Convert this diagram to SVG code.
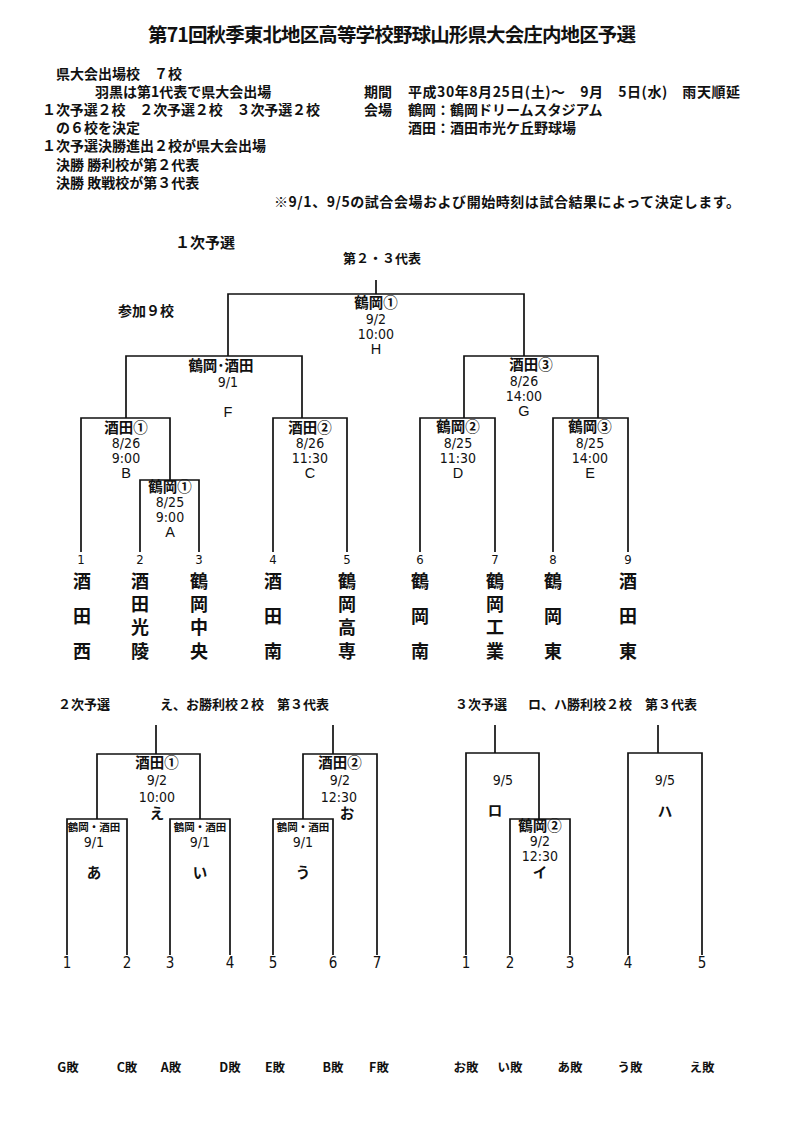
<svg xmlns="http://www.w3.org/2000/svg" width="800" height="1131" viewBox="0 0 800 1131">
<style>
text{fill:#111;}
.j{font-family:"Noto Sans CJK JP","Noto Sans CJK SC",sans-serif;font-weight:bold;}
.t{font-size:14px;}
.ttl{font-size:19.5px;}
.n{font-size:14.5px;text-anchor:middle;}
.s{font-size:10.5px;text-anchor:middle;}
.nm{font-size:18px;text-anchor:middle;}
.lb{font-size:13px;}
.bl{font-size:12.5px;text-anchor:middle;}
.d{font-family:"Liberation Sans Narrow","DejaVu Sans Condensed","Liberation Sans",sans-serif;font-size:14px;text-anchor:middle;}
.num{font-family:"Liberation Sans Narrow","DejaVu Sans Condensed","Liberation Sans",sans-serif;font-size:13px;text-anchor:middle;}
.num2{font-family:"Liberation Sans Narrow","DejaVu Sans Condensed","Liberation Sans",sans-serif;font-size:15px;text-anchor:middle;}
.a{font-family:"Liberation Sans",Arial,sans-serif;font-size:14.5px;text-anchor:middle;}
.ln{stroke:#111;stroke-width:1.7;fill:none;}
</style>
<rect width="800" height="1131" fill="#fff"/>

<g id="header">
<text class="j ttl" x="148" y="42" textLength="488">第71回秋季東北地区高等学校野球山形県大会庄内地区予選</text>
<text class="j t" x="56" y="79">県大会出場校　７校</text>
<text class="j t" x="95" y="97">羽黒は第1代表で県大会出場</text>
<text class="j t" x="42" y="115" textLength="278">１次予選２校　２次予選２校　３次予選２校</text>
<text class="j t" x="56" y="133">の６校を決定</text>
<text class="j t" x="42" y="151">１次予選決勝進出２校が県大会出場</text>
<text class="j t" x="56" y="170">決勝 勝利校が第２代表</text>
<text class="j t" x="56" y="188">決勝 敗戦校が第３代表</text>
<text class="j t" x="364" y="97">期間</text>
<text class="j t" x="408" y="97" textLength="332">平成30年8月25日(土)～　9月　5日(水)　雨天順延</text>
<text class="j t" x="364" y="115">会場</text>
<text class="j t" x="408" y="115">鶴岡：鶴岡ドリームスタジアム</text>
<text class="j t" x="408" y="133">酒田：酒田市光ケ丘野球場</text>
<text class="j t" x="274" y="207" textLength="466">※9/1、9/5の試合会場および開始時刻は試合結果によって決定します。</text>
</g>

<g id="connectors">
<path class="ln" d="M376 280V294M228 356V294H524V356"/>
<path class="ln" d="M126 418V356H302V418"/>
<path class="ln" d="M464 418V356H598V418"/>
<path class="ln" d="M81 552V418H170V480"/>
<path class="ln" d="M140 552V480H199V552"/>
<path class="ln" d="M273 552V418H347V552"/>
<path class="ln" d="M420 552V418H495V552"/>
<path class="ln" d="M553 552V418H628V552"/>
<path class="ln" d="M156 725V754M97 819V754H200V819"/>
<path class="ln" d="M67 955V819H127V955"/>
<path class="ln" d="M170 955V819H230V955"/>
<path class="ln" d="M333 725V754M303 819V754H377V955"/>
<path class="ln" d="M273 955V819H333V955"/>
<path class="ln" d="M495 725V753M466 955V753H539V819"/>
<path class="ln" d="M510 955V819H570V955"/>
<path class="ln" d="M658 725V753M628 955V753H702V955"/>
</g>

<g id="section1-labels">
<text class="j" x="175" y="248" font-size="15">１次予選</text>
<text class="j lb" x="343" y="263">第２・３代表</text>
<text class="j" x="118" y="316" font-size="14">参加９校</text>
</g>

<g id="node-H">
<text class="j n" x="376" y="308">鶴岡①</text>
<text class="d" x="376" y="324">9/2</text>
<text class="d" x="376" y="339">10:00</text>
<text class="a" x="376" y="354">H</text>
</g>
<g id="node-F">
<text class="j n" x="221" y="371">鶴岡･酒田</text>
<text class="d" x="228" y="387">9/1</text>
<text class="a" x="228" y="417">F</text>
</g>
<g id="node-G">
<text class="j n" x="531" y="370">酒田③</text>
<text class="d" x="524" y="386">8/26</text>
<text class="d" x="524" y="401">14:00</text>
<text class="a" x="524" y="416">G</text>
</g>
<g id="node-B">
<text class="j n" x="126" y="433">酒田①</text>
<text class="d" x="126" y="448">8/26</text>
<text class="d" x="126" y="463">9:00</text>
<text class="a" x="126" y="478">B</text>
</g>
<g id="node-A">
<text class="j n" x="170" y="492">鶴岡①</text>
<text class="d" x="170" y="507">8/25</text>
<text class="d" x="170" y="522">9:00</text>
<text class="a" x="170" y="537">A</text>
</g>
<g id="node-C">
<text class="j n" x="310" y="433">酒田②</text>
<text class="d" x="310" y="448">8/26</text>
<text class="d" x="310" y="463">11:30</text>
<text class="a" x="310" y="478">C</text>
</g>
<g id="node-D">
<text class="j n" x="458" y="432">鶴岡②</text>
<text class="d" x="458" y="448">8/25</text>
<text class="d" x="458" y="463">11:30</text>
<text class="a" x="458" y="478">D</text>
</g>
<g id="node-E">
<text class="j n" x="590" y="432">鶴岡③</text>
<text class="d" x="590" y="448">8/25</text>
<text class="d" x="590" y="463">14:00</text>
<text class="a" x="590" y="478">E</text>
</g>

<g id="teams1">
<text class="num" x="81" y="564">1</text>
<text class="num" x="140" y="564">2</text>
<text class="num" x="199" y="564">3</text>
<text class="num" x="273" y="564">4</text>
<text class="num" x="347" y="564">5</text>
<text class="num" x="420" y="564">6</text>
<text class="num" x="495" y="564">7</text>
<text class="num" x="553" y="564">8</text>
<text class="num" x="628" y="564">9</text>
<text class="j nm"><tspan x="82" y="588">酒</tspan><tspan x="82" y="623">田</tspan><tspan x="82" y="658">西</tspan></text>
<text class="j nm"><tspan x="140" y="588">酒</tspan><tspan x="140" y="611">田</tspan><tspan x="140" y="634">光</tspan><tspan x="140" y="658">陵</tspan></text>
<text class="j nm"><tspan x="199" y="588">鶴</tspan><tspan x="199" y="611">岡</tspan><tspan x="199" y="634">中</tspan><tspan x="199" y="658">央</tspan></text>
<text class="j nm"><tspan x="273" y="588">酒</tspan><tspan x="273" y="623">田</tspan><tspan x="273" y="658">南</tspan></text>
<text class="j nm"><tspan x="347" y="588">鶴</tspan><tspan x="347" y="611">岡</tspan><tspan x="347" y="634">高</tspan><tspan x="347" y="658">専</tspan></text>
<text class="j nm"><tspan x="420" y="588">鶴</tspan><tspan x="420" y="623">岡</tspan><tspan x="420" y="658">南</tspan></text>
<text class="j nm"><tspan x="495" y="588">鶴</tspan><tspan x="495" y="611">岡</tspan><tspan x="495" y="634">工</tspan><tspan x="495" y="658">業</tspan></text>
<text class="j nm"><tspan x="553" y="588">鶴</tspan><tspan x="553" y="623">岡</tspan><tspan x="553" y="658">東</tspan></text>
<text class="j nm"><tspan x="628" y="588">酒</tspan><tspan x="628" y="623">田</tspan><tspan x="628" y="658">東</tspan></text>
</g>

<g id="section2-labels">
<text class="j lb" x="58" y="709">２次予選</text>
<text class="j lb" x="160" y="709">え、お勝利校２校　第３代表</text>
<text class="j lb" x="455" y="709">３次予選</text>
<text class="j lb" x="528" y="709">ロ、ハ勝利校２校　第３代表</text>
</g>

<g id="node-e">
<text class="j n" x="157" y="768">酒田①</text>
<text class="d" x="157" y="785">9/2</text>
<text class="d" x="157" y="802">10:00</text>
<text class="j n" x="157" y="819">え</text>
</g>
<g id="node-o">
<text class="j n" x="340" y="768">酒田②</text>
<text class="d" x="340" y="785">9/2</text>
<text class="d" x="339" y="802">12:30</text>
<text class="j n" x="347" y="819">お</text>
</g>
<g id="node-a">
<text class="j s" x="94" y="831">鶴岡・酒田</text>
<text class="d" x="94" y="847">9/1</text>
<text class="j n" x="94" y="878">あ</text>
</g>
<g id="node-i">
<text class="j s" x="200" y="831">鶴岡・酒田</text>
<text class="d" x="200" y="847">9/1</text>
<text class="j n" x="200" y="878">い</text>
</g>
<g id="node-u">
<text class="j s" x="303" y="831">鶴岡・酒田</text>
<text class="d" x="303" y="847">9/1</text>
<text class="j n" x="303" y="878">う</text>
</g>

<g id="node-ro">
<text class="d" x="503" y="785">9/5</text>
<text class="j n" x="495" y="816">ロ</text>
</g>
<g id="node-I">
<text class="j n" x="540" y="831">鶴岡②</text>
<text class="d" x="540" y="846">9/2</text>
<text class="d" x="540" y="861">12:30</text>
<text class="j n" x="540" y="878">イ</text>
</g>
<g id="node-ha">
<text class="d" x="665" y="785">9/5</text>
<text class="j n" x="665" y="817">ハ</text>
</g>

<g id="teams2">
<text class="num2" x="67" y="968">1</text>
<text class="num2" x="127" y="968">2</text>
<text class="num2" x="170" y="968">3</text>
<text class="num2" x="230" y="968">4</text>
<text class="num2" x="273" y="968">5</text>
<text class="num2" x="333" y="968">6</text>
<text class="num2" x="377" y="968">7</text>
<text class="num2" x="466" y="968">1</text>
<text class="num2" x="510" y="968">2</text>
<text class="num2" x="570" y="968">3</text>
<text class="num2" x="628" y="968">4</text>
<text class="num2" x="702" y="968">5</text>
</g>

<g id="losers">
<text class="j bl" x="68" y="1072">G敗</text>
<text class="j bl" x="127" y="1072">C敗</text>
<text class="j bl" x="171" y="1072">A敗</text>
<text class="j bl" x="230" y="1072">D敗</text>
<text class="j bl" x="275" y="1072">E敗</text>
<text class="j bl" x="333" y="1072">B敗</text>
<text class="j bl" x="379" y="1072">F敗</text>
<text class="j bl" x="466" y="1072">お敗</text>
<text class="j bl" x="510" y="1072">い敗</text>
<text class="j bl" x="570" y="1072">あ敗</text>
<text class="j bl" x="630" y="1072">う敗</text>
<text class="j bl" x="702" y="1072">え敗</text>
</g>
</svg>
